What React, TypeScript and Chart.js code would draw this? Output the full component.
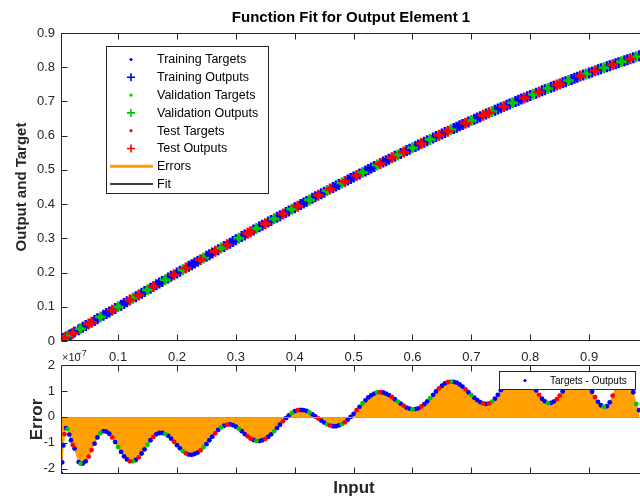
import React, { useEffect, useRef } from "react";
import { Chart, registerables } from "chart.js";

Chart.register(...registerables);

// ---------------- DATA ----------------
const inputX = [
  0.003, 0.005, 0.007, 0.009, 0.0115, 0.014, 0.017, 0.02, 0.023, 0.026, 0.033, 0.036, 0.04, 0.045,
  0.05, 0.055, 0.06, 0.065, 0.07, 0.075, 0.08, 0.085, 0.09, 0.095,
  0.1, 0.105, 0.11, 0.115, 0.12, 0.125, 0.13, 0.135, 0.14, 0.145,
  0.15, 0.155, 0.16, 0.165, 0.17, 0.175, 0.18, 0.185, 0.19, 0.195,
  0.2, 0.205, 0.21, 0.215, 0.22, 0.225, 0.23, 0.235, 0.24, 0.245,
  0.25, 0.255, 0.26, 0.265, 0.27, 0.275, 0.28, 0.285, 0.29, 0.295,
  0.3, 0.305, 0.31, 0.315, 0.32, 0.325, 0.33, 0.335, 0.34, 0.345,
  0.35, 0.355, 0.36, 0.365, 0.37, 0.375, 0.38, 0.385, 0.39, 0.395,
  0.4, 0.405, 0.41, 0.415, 0.42, 0.425, 0.43, 0.435, 0.44, 0.445,
  0.45, 0.455, 0.46, 0.465, 0.47, 0.475, 0.48, 0.485, 0.49, 0.495,
  0.5, 0.505, 0.51, 0.515, 0.52, 0.525, 0.53, 0.535, 0.54, 0.545,
  0.55, 0.555, 0.56, 0.565, 0.57, 0.575, 0.58, 0.585, 0.59, 0.595,
  0.6, 0.605, 0.61, 0.615, 0.62, 0.625, 0.63, 0.635, 0.64, 0.645,
  0.65, 0.655, 0.66, 0.665, 0.67, 0.675, 0.68, 0.685, 0.69, 0.695,
  0.7, 0.705, 0.71, 0.715, 0.72, 0.725, 0.73, 0.735, 0.74, 0.745,
  0.75, 0.755, 0.76, 0.765, 0.77, 0.775, 0.78, 0.785, 0.79, 0.795,
  0.8, 0.805, 0.81, 0.815, 0.82, 0.825, 0.83, 0.835, 0.84, 0.845,
  0.85, 0.855, 0.86, 0.865, 0.87, 0.875, 0.88, 0.885, 0.89, 0.895,
  0.9, 0.905, 0.91, 0.915, 0.92, 0.925, 0.93, 0.935, 0.94, 0.945,
  0.95, 0.955, 0.96, 0.965, 0.97, 0.975, 0.98, 0.985,
];

const targetY = [
  0.003, 0.005, 0.007, 0.009, 0.0115, 0.014, 0.017, 0.02, 0.023, 0.026, 0.033, 0.036, 0.04, 0.045,
  0.05, 0.055, 0.06, 0.065, 0.07, 0.075, 0.08, 0.085, 0.09, 0.095,
  0.0998, 0.1048, 0.1098, 0.1147, 0.1197, 0.1247, 0.1296, 0.1346, 0.1395, 0.1445,
  0.1494, 0.1544, 0.1593, 0.1643, 0.1692, 0.1741, 0.179, 0.1839, 0.1889, 0.1938,
  0.1987, 0.2036, 0.2085, 0.2133, 0.2182, 0.2231, 0.228, 0.2328, 0.2377, 0.2425,
  0.2474, 0.2522, 0.2571, 0.2619, 0.2667, 0.2715, 0.2764, 0.2811, 0.2859, 0.2907,
  0.2955, 0.3003, 0.3051, 0.3098, 0.3146, 0.3193, 0.324, 0.3288, 0.3335, 0.3382,
  0.3429, 0.3476, 0.3523, 0.3569, 0.3616, 0.3662, 0.3709, 0.3755, 0.3802, 0.3848,
  0.3894, 0.394, 0.3986, 0.4032, 0.4078, 0.4123, 0.4169, 0.4214, 0.4259, 0.4305,
  0.435, 0.4395, 0.4439, 0.4484, 0.4529, 0.4573, 0.4618, 0.4662, 0.4706, 0.475,
  0.4794, 0.4838, 0.4882, 0.4925, 0.4969, 0.5012, 0.5055, 0.5098, 0.5141, 0.5184,
  0.5227, 0.5269, 0.5312, 0.5354, 0.5396, 0.5438, 0.548, 0.5522, 0.5564, 0.5605,
  0.5646, 0.5687, 0.5728, 0.5769, 0.581, 0.5851, 0.5891, 0.5931, 0.5972, 0.6012,
  0.6052, 0.6092, 0.6131, 0.6171, 0.621, 0.6248, 0.6287, 0.6326, 0.6364, 0.6403,
  0.6442, 0.648, 0.6518, 0.6555, 0.6593, 0.663, 0.6668, 0.6705, 0.6742, 0.6779,
  0.6816, 0.6853, 0.6889, 0.6925, 0.6961, 0.6997, 0.7033, 0.7068, 0.7103, 0.7139,
  0.7174, 0.7208, 0.7243, 0.7277, 0.7311, 0.7345, 0.7379, 0.7413, 0.7446, 0.748,
  0.7513, 0.7546, 0.7579, 0.7611, 0.7644, 0.7676, 0.7708, 0.774, 0.7771, 0.7803,
  0.7833, 0.7864, 0.7895, 0.7925, 0.7956, 0.7986, 0.8016, 0.8045, 0.8075, 0.8105,
  0.8134, 0.8163, 0.8192, 0.822, 0.8249, 0.8277, 0.8305, 0.8333,
];

// Targets - Outputs, in units of 1e-7
const errorE = [
  -2.19, -1.75, -1.1, -0.66, -0.43, -0.47, -0.68, -0.9, -1.08, -1.22, -1.74, -1.8, -1.8, -1.71,
  -1.53, -1.28, -1.03, -0.79, -0.63, -0.55, -0.57, -0.65, -0.79, -0.97,
  -1.16, -1.35, -1.52, -1.64, -1.71, -1.71, -1.66, -1.56, -1.41, -1.25,
  -1.07, -0.9, -0.77, -0.67, -0.62, -0.62, -0.66, -0.73, -0.84, -0.96,
  -1.09, -1.21, -1.32, -1.4, -1.45, -1.46, -1.43, -1.38, -1.29, -1.17,
  -1.05, -0.9, -0.76, -0.63, -0.5, -0.4, -0.34, -0.3, -0.29, -0.32,
  -0.38, -0.46, -0.55, -0.66, -0.75, -0.84, -0.89, -0.93, -0.93, -0.9,
  -0.85, -0.77, -0.67, -0.55, -0.43, -0.3, -0.17, -0.05, 0.06, 0.15,
  0.22, 0.26, 0.27, 0.26, 0.23, 0.17, 0.1, 0.02, -0.06, -0.14,
  -0.22, -0.29, -0.33, -0.36, -0.36, -0.33, -0.28, -0.21, -0.11, 0.0,
  0.12, 0.26, 0.39, 0.52, 0.64, 0.75, 0.83, 0.9, 0.94, 0.95,
  0.94, 0.9, 0.84, 0.77, 0.68, 0.59, 0.51, 0.43, 0.36, 0.32,
  0.29, 0.3, 0.33, 0.4, 0.49, 0.6, 0.72, 0.85, 0.98, 1.1,
  1.2, 1.29, 1.34, 1.36, 1.35, 1.32, 1.25, 1.17, 1.06, 0.95,
  0.84, 0.74, 0.65, 0.57, 0.52, 0.5, 0.52, 0.59, 0.7, 0.85,
  1.03, 1.2, 1.35, 1.48, 1.58, 1.64, 1.66, 1.64, 1.58, 1.48,
  1.35, 1.2, 1.02, 0.85, 0.7, 0.6, 0.54, 0.54, 0.59, 0.68,
  0.82, 0.98, 1.15, 1.31, 1.45, 1.55, 1.6, 1.59, 1.51, 1.37,
  1.18, 0.97, 0.76, 0.58, 0.45, 0.39, 0.41, 0.56, 0.82, 1.11,
  1.37, 1.52, 1.54, 1.45, 1.28, 0.95, 0.5, 0.26,
];

// subset of each sample: T = training, V = validation, S = test
const subsetCodes = [
  "TTTSTVTTST", "TVTTSSTTVT", "TTSTVTTTSV", "TSTTVTSTTT", "VTTSTTVSTT",
  "TTSVTTTSTV", "TSTTTVTTSS", "TVTTSTTVTT", "STTVTSTTTV", "TTSTTVSTTT",
  "VSTTTSTVTT", "TTVSTTTSTV", "TSTTVTTSTT", "VTTSTTSVTT", "TTSTVTTTST",
  "SVTTTSTTVT", "TTSTTVTSTT", "VTTSSTTVTT", "TSTVTTSTTV", "TTSTTVTTST",
  "VT",
].join("");

const xTicks = [0.1, 0.2, 0.3, 0.4, 0.5, 0.6, 0.7, 0.8, 0.9];
const yTicksTop = [0, 0.1, 0.2, 0.3, 0.4, 0.5, 0.6, 0.7, 0.8, 0.9];
const yTicksErr = [-2, -1, 0, 1, 2];

const topLegendLabels = [
  "Training Targets",
  "Training Outputs",
  "Validation Targets",
  "Validation Outputs",
  "Test Targets",
  "Test Outputs",
  "Errors",
  "Fit",
];

// ---------------- STYLE ----------------
const FONT = "'Liberation Sans', Arial, Helvetica, sans-serif";
const AXIS = "#262626";
const ORANGE = "#FF9F00";
const SUBSETS = [
  { code: "T", color: "rgb(0,0,255)" },
  { code: "V", color: "rgb(0,200,0)" },
  { code: "S", color: "rgb(255,0,0)" },
];
const X_MIN = 0.003;
const X_MAX = 1.0;

function pointsFor(code: string, kind: "target" | "output" | "error") {
  const pts: { x: number; y: number }[] = [];
  for (let i = 0; i < inputX.length; i++) {
    const c = subsetCodes[i] || "T";
    if (c !== code) continue;
    let y = targetY[i];
    if (kind === "output") y = targetY[i] - errorE[i] * 1e-7;
    if (kind === "error") y = errorE[i];
    pts.push({ x: inputX[i], y });
  }
  return pts;
}

function drawMarker(ctx: CanvasRenderingContext2D, kind: string, x: number, y: number, color: string) {
  ctx.save();
  if (kind === "dot") {
    ctx.fillStyle = color;
    ctx.beginPath();
    ctx.arc(x, y, 1.6, 0, Math.PI * 2);
    ctx.fill();
  } else if (kind === "plus") {
    ctx.strokeStyle = color;
    ctx.lineWidth = 1.6;
    ctx.beginPath();
    ctx.moveTo(x - 4, y);
    ctx.lineTo(x + 4, y);
    ctx.moveTo(x, y - 4);
    ctx.lineTo(x, y + 4);
    ctx.stroke();
  }
  ctx.restore();
}

function drawAxesFrame(chart: any, yTicks: number[]) {
  const { ctx, chartArea: a, scales } = chart;
  const top = Math.round(a.top) + 0.5;
  const bottom = Math.round(a.bottom) - 0.5;
  const left = Math.round(a.left) + 0.5;
  const right = a.right + 20;
  ctx.save();
  ctx.strokeStyle = AXIS;
  ctx.lineWidth = 1;
  ctx.beginPath();
  ctx.moveTo(right, top);
  ctx.lineTo(left, top);
  ctx.lineTo(left, bottom);
  ctx.lineTo(right, bottom);
  for (const v of xTicks) {
    const px = Math.round(scales.x.getPixelForValue(v)) + 0.5;
    ctx.moveTo(px, top);
    ctx.lineTo(px, top + 6);
    ctx.moveTo(px, bottom);
    ctx.lineTo(px, bottom - 6);
  }
  for (const v of yTicks) {
    const py = Math.round(scales.y.getPixelForValue(v)) + 0.5;
    ctx.moveTo(left, py);
    ctx.lineTo(left + 6, py);
  }
  ctx.stroke();
  ctx.restore();
}

const topDecor = {
  id: "topDecor",
  afterDraw(chart: any) {
    const { ctx } = chart;
    drawAxesFrame(chart, yTicksTop);
    ctx.save();
    // title
    ctx.fillStyle = "#000";
    ctx.font = `bold 15px ${FONT}`;
    ctx.textAlign = "center";
    ctx.textBaseline = "middle";
    ctx.fillText("Function Fit for Output Element 1", 351, 18);
    // y label
    ctx.save();
    ctx.translate(22, 187);
    ctx.rotate(-Math.PI / 2);
    ctx.fillStyle = AXIS;
    ctx.font = `bold 15px ${FONT}`;
    ctx.fillText("Output and Target", 0, 0);
    ctx.restore();
    // legend
    const bx = 106.5, by = 46.5, bw = 162, bh = 147;
    ctx.fillStyle = "#fff";
    ctx.fillRect(bx, by, bw, bh);
    ctx.strokeStyle = AXIS;
    ctx.lineWidth = 1;
    ctx.strokeRect(bx, by, bw, bh);
    const kinds = ["dot", "plus", "dot", "plus", "dot", "plus", "line", "line"];
    const colors = [
      SUBSETS[0].color, SUBSETS[0].color, SUBSETS[1].color, SUBSETS[1].color,
      SUBSETS[2].color, SUBSETS[2].color, ORANGE, "#000",
    ];
    ctx.font = `12.5px ${FONT}`;
    ctx.textAlign = "left";
    ctx.textBaseline = "middle";
    for (let i = 0; i < topLegendLabels.length; i++) {
      const y = 59.5 + i * 17.8;
      if (kinds[i] === "line") {
        ctx.strokeStyle = colors[i];
        ctx.lineWidth = i === 6 ? 3 : 1.5;
        ctx.beginPath();
        ctx.moveTo(110, y);
        ctx.lineTo(153, y);
        ctx.stroke();
      } else {
        drawMarker(ctx, kinds[i], 131, y, colors[i]);
      }
      ctx.fillStyle = "#000";
      ctx.fillText(topLegendLabels[i], 157, y + 0.5);
    }
    ctx.restore();
  },
};

const errDecor = {
  id: "errDecor",
  afterDatasetsDraw(chart: any) {
    const { ctx, chartArea: a, scales } = chart;
    const y0 = Math.round(scales.y.getPixelForValue(0)) + 0.5;
    ctx.save();
    ctx.strokeStyle = "#a0a0a0";
    ctx.lineWidth = 1;
    ctx.beginPath();
    ctx.moveTo(a.left, y0);
    ctx.lineTo(a.right, y0);
    ctx.stroke();
    ctx.restore();
  },
  afterDraw(chart: any) {
    const { ctx } = chart;
    // legend
    ctx.save();
    const bx = 499.5, by = 31.5, bw = 136, bh = 18;
    ctx.fillStyle = "#fff";
    ctx.fillRect(bx, by, bw, bh);
    ctx.strokeStyle = AXIS;
    ctx.lineWidth = 1;
    ctx.strokeRect(bx, by, bw, bh);
    drawMarker(ctx, "dot", 525, 40.5, SUBSETS[0].color);
    ctx.fillStyle = "#000";
    ctx.font = `10px ${FONT}`;
    ctx.textAlign = "left";
    ctx.textBaseline = "middle";
    ctx.fillText("Targets - Outputs", 550, 41);
    ctx.restore();

    drawAxesFrame(chart, yTicksErr);

    ctx.save();
    // exponent label
    ctx.fillStyle = AXIS;
    ctx.textBaseline = "alphabetic";
    ctx.textAlign = "left";
    ctx.font = `11px ${FONT}`;
    ctx.fillText("\u00d710", 62, 21);
    ctx.font = `9px ${FONT}`;
    ctx.fillText("\u22127", 76.5, 15.5);
    // axis labels
    ctx.font = `bold 17px ${FONT}`;
    ctx.textAlign = "center";
    ctx.textBaseline = "middle";
    ctx.fillText("Input", 354, 148);
    ctx.translate(37, 79.5);
    ctx.rotate(-Math.PI / 2);
    ctx.fillText("Error", 0, 0);
    ctx.restore();
  },
};

const fmt = (v: any) => {
  const n = Number(v);
  if (Math.abs(n) < 1e-9) return "0";
  return Number.isInteger(n) ? String(n) : n.toFixed(1);
};

export default function App() {
  const ref1 = useRef<HTMLCanvasElement>(null);
  const ref2 = useRef<HTMLCanvasElement>(null);

  useEffect(() => {
    const fitLine = inputX.map((x, i) => ({ x, y: targetY[i] - errorE[i] * 1e-7 }));
    const topSets: any[] = [
      {
        type: "line",
        data: fitLine,
        borderColor: "#000",
        borderWidth: 1,
        pointRadius: 0,
        showLine: true,
        fill: false,
        order: 10,
      },
    ];
    SUBSETS.forEach((s, k) => {
      topSets.push({
        data: pointsFor(s.code, "target"),
        pointStyle: "rect",
        pointRadius: 3.4,
        backgroundColor: s.color,
        borderColor: s.color,
        borderWidth: 0,
        order: 9 - k * 2,
      });
      topSets.push({
        data: pointsFor(s.code, "output"),
        pointStyle: "cross",
        pointRadius: 5.5,
        backgroundColor: s.color,
        borderColor: s.color,
        borderWidth: 2.6,
        order: 8 - k * 2,
      });
    });

    const tickFont = { family: FONT, size: 13 };

    const c1 = new Chart(ref1.current as HTMLCanvasElement, {
      type: "scatter",
      data: { datasets: topSets },
      options: {
        animation: false,
        responsive: false,
        devicePixelRatio: 1,
        events: [],
        layout: { padding: { top: 33, right: 12, left: 0, bottom: 0 } },
        plugins: { legend: { display: false }, tooltip: { enabled: false }, title: { display: false } },
        scales: {
          x: {
            type: "linear",
            min: X_MIN,
            max: X_MAX,
            afterFit: (s: any) => { s.height = 29; },
            afterBuildTicks: (s: any) => { s.ticks = xTicks.map((v) => ({ value: v })); },
            grid: { display: false, drawTicks: false },
            border: { display: false },
            ticks: { font: tickFont, color: AXIS, padding: 9, maxRotation: 0, autoSkip: false, callback: fmt },
          },
          y: {
            type: "linear",
            min: 0,
            max: 0.9,
            afterFit: (s: any) => { s.width = 61; },
            afterBuildTicks: (s: any) => { s.ticks = yTicksTop.map((v) => ({ value: v })); },
            grid: { display: false, drawTicks: false },
            border: { display: false },
            ticks: { font: tickFont, color: AXIS, padding: 6, autoSkip: false, callback: fmt },
          },
        },
      } as any,
      plugins: [topDecor],
    });

    const errSets: any[] = [
      {
        type: "line",
        data: inputX.map((x, i) => ({ x, y: errorE[i] })),
        borderColor: ORANGE,
        backgroundColor: ORANGE,
        borderWidth: 1,
        pointRadius: 0,
        showLine: true,
        fill: "origin",
        order: 10,
      },
    ];
    SUBSETS.forEach((s, k) => {
      errSets.push({
        data: pointsFor(s.code, "error"),
        pointStyle: "circle",
        pointRadius: 2.4,
        backgroundColor: s.color,
        borderColor: s.color,
        borderWidth: 0,
        order: 5 - k,
      });
    });

    const c2 = new Chart(ref2.current as HTMLCanvasElement, {
      type: "scatter",
      data: { datasets: errSets },
      options: {
        animation: false,
        responsive: false,
        devicePixelRatio: 1,
        events: [],
        layout: { padding: { top: 25, right: 12, left: 0, bottom: 0 } },
        plugins: { legend: { display: false }, tooltip: { enabled: false }, title: { display: false } },
        scales: {
          x: {
            type: "linear",
            min: X_MIN,
            max: X_MAX,
            afterFit: (s: any) => { s.height = 26; },
            afterBuildTicks: (s: any) => { s.ticks = xTicks.map((v) => ({ value: v })); },
            grid: { display: false, drawTicks: false },
            border: { display: false },
            ticks: { display: false },
          },
          y: {
            type: "linear",
            min: -2.2,
            max: 2,
            afterFit: (s: any) => { s.width = 61; },
            afterBuildTicks: (s: any) => { s.ticks = yTicksErr.map((v) => ({ value: v })); },
            grid: { display: false, drawTicks: false },
            border: { display: false },
            ticks: { font: tickFont, color: AXIS, padding: 6, autoSkip: false, callback: fmt },
          },
        },
      } as any,
      plugins: [errDecor],
    });

    return () => {
      c1.destroy();
      c2.destroy();
    };
  }, []);

  return (
    <div
      style={{
        position: "fixed",
        left: 0,
        top: 0,
        width: 640,
        height: 500,
        overflow: "hidden",
        background: "#fff",
      }}
    >
      <canvas
        ref={ref1}
        width={660}
        height={370}
        style={{ position: "absolute", left: 0, top: 0, width: 660, height: 370 }}
      />
      <canvas
        ref={ref2}
        width={660}
        height={160}
        style={{ position: "absolute", left: 0, top: 340, width: 660, height: 160 }}
      />
    </div>
  );
}
